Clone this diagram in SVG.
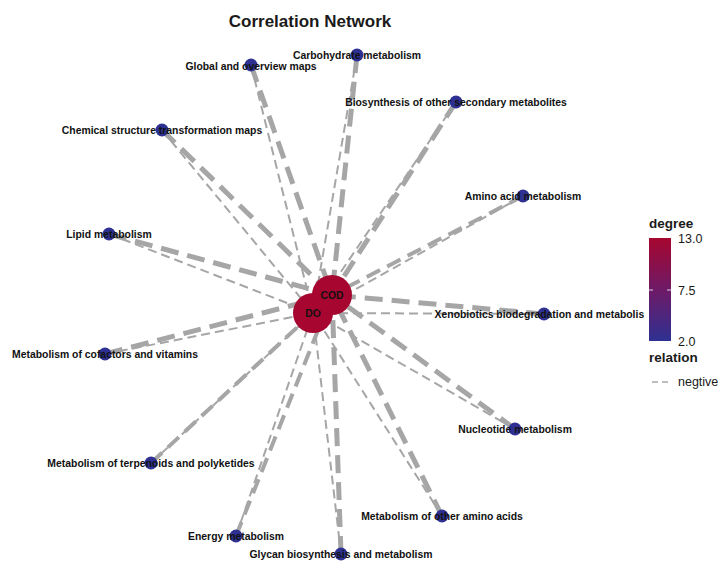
<svg xmlns="http://www.w3.org/2000/svg" width="719" height="561" viewBox="0 0 719 561">
<defs>
<linearGradient id="deg" x1="0" y1="0" x2="0" y2="1">
<stop offset="0" stop-color="#A6062F"/>
<stop offset="0.5" stop-color="#6E1A66"/>
<stop offset="1" stop-color="#2E3192"/>
</linearGradient>
<clipPath id="panel"><rect x="0" y="0" width="644" height="561"/></clipPath>
</defs>
<style>
.e{stroke:#A6A6A6;fill:none;stroke-linecap:butt}
.t{stroke-width:5;stroke-dasharray:18 9}
.m{stroke-width:4;stroke-dasharray:15 8}
.n{stroke-width:2;stroke-dasharray:9 5}
.leaf{fill:#2E3192}
.hub{fill:#A6062F}
.lab{font-family:"Liberation Sans",Arial,sans-serif;font-weight:bold;font-size:10.4px;fill:#111;text-anchor:middle}
.leg{font-family:"Liberation Sans",Arial,sans-serif;fill:#1a1a1a}
</style>
<rect width="719" height="561" fill="#fff"/>
<text x="310" y="27" class="leg" font-size="17" font-weight="bold" text-anchor="middle" fill="#000">Correlation Network</text>
<g id="connectors">
<line class="e t" x1="357" y1="55" x2="332" y2="295"/>
<line class="e n" x1="357" y1="55" x2="313" y2="313"/>
<line class="e t" x1="251" y1="65" x2="332" y2="295"/>
<line class="e n" x1="251" y1="65" x2="313" y2="313"/>
<line class="e t" x1="456" y1="102" x2="332" y2="295"/>
<line class="e n" x1="456" y1="102" x2="313" y2="313"/>
<line class="e t" x1="162" y1="130" x2="332" y2="295"/>
<line class="e n" x1="162" y1="130" x2="313" y2="313"/>
<line class="e m" x1="523" y1="196" x2="332" y2="295"/>
<line class="e n" x1="523" y1="196" x2="313" y2="313"/>
<line class="e t" x1="109" y1="234" x2="332" y2="295"/>
<line class="e n" x1="109" y1="234" x2="313" y2="313"/>
<line class="e t" x1="544" y1="314" x2="332" y2="295"/>
<line class="e n" x1="544" y1="314" x2="313" y2="313"/>
<line class="e t" x1="105" y1="354" x2="332" y2="295"/>
<line class="e n" x1="105" y1="354" x2="313" y2="313"/>
<line class="e t" x1="515" y1="429" x2="332" y2="295"/>
<line class="e n" x1="515" y1="429" x2="313" y2="313"/>
<line class="e m" x1="151" y1="463" x2="332" y2="295"/>
<line class="e n" x1="151" y1="463" x2="313" y2="313"/>
<line class="e t" x1="442" y1="516" x2="332" y2="295"/>
<line class="e n" x1="442" y1="516" x2="313" y2="313"/>
<line class="e m" x1="236" y1="536" x2="332" y2="295"/>
<line class="e n" x1="236" y1="536" x2="313" y2="313"/>
<line class="e t" x1="341" y1="554" x2="332" y2="295"/>
<line class="e n" x1="341" y1="554" x2="313" y2="313"/>
</g>
<g id="n-carbohydrate"><circle class="leaf" cx="357" cy="55" r="6.5"/><text class="lab" x="357" y="59">Carbohydrate metabolism</text></g>
<g id="n-global"><circle class="leaf" cx="251" cy="65" r="6.5"/><text class="lab" x="251" y="70">Global and overview maps</text></g>
<g id="n-biosynthesis"><circle class="leaf" cx="456" cy="102" r="6.5"/><text class="lab" x="456" y="106">Biosynthesis of other secondary metabolites</text></g>
<g id="n-chemical"><circle class="leaf" cx="162" cy="130" r="6.5"/><text class="lab" x="162" y="134">Chemical structure transformation maps</text></g>
<g id="n-aminoacid"><circle class="leaf" cx="523" cy="196" r="6.5"/><text class="lab" x="523" y="200">Amino acid metabolism</text></g>
<g id="n-lipid"><circle class="leaf" cx="109" cy="234" r="6.5"/><text class="lab" x="109" y="238">Lipid metabolism</text></g>
<g id="n-xenobiotics"><circle class="leaf" cx="544" cy="314" r="6.5"/><text class="lab" x="544" y="318" clip-path="url(#panel)">Xenobiotics biodegradation and metabolism</text></g>
<g id="n-cofactors"><circle class="leaf" cx="105" cy="354" r="6.5"/><text class="lab" x="105" y="358">Metabolism of cofactors and vitamins</text></g>
<g id="n-nucleotide"><circle class="leaf" cx="515" cy="429" r="6.5"/><text class="lab" x="515" y="433">Nucleotide metabolism</text></g>
<g id="n-terpenoids"><circle class="leaf" cx="151" cy="463" r="6.5"/><text class="lab" x="151" y="467">Metabolism of terpenoids and polyketides</text></g>
<g id="n-otheramino"><circle class="leaf" cx="442" cy="516" r="6.5"/><text class="lab" x="442" y="520">Metabolism of other amino acids</text></g>
<g id="n-energy"><circle class="leaf" cx="236" cy="536" r="6.5"/><text class="lab" x="236" y="540">Energy metabolism</text></g>
<g id="n-glycan"><circle class="leaf" cx="341" cy="554" r="6.5"/><text class="lab" x="341" y="558">Glycan biosynthesis and metabolism</text></g>
<g id="n-DO"><circle class="hub" cx="313" cy="313" r="20"/><text class="lab" x="313" y="317">DO</text></g>
<g id="n-COD"><circle class="hub" cx="332" cy="295" r="20"/><text class="lab" x="332" y="299">COD</text></g>
<g id="legend">
<text class="leg" x="649" y="228" font-size="13.5" font-weight="bold">degree</text>
<rect x="649" y="238" width="22" height="103" fill="url(#deg)"/>
<g stroke="#fff" stroke-width="1" opacity="0.8">
<line x1="649" y1="290" x2="653" y2="290"/><line x1="667" y1="290" x2="671" y2="290"/>
</g>
<text class="leg" x="678" y="243" font-size="12.5">13.0</text>
<text class="leg" x="678" y="295" font-size="12.5">7.5</text>
<text class="leg" x="678" y="346" font-size="12.5">2.0</text>
<text class="leg" x="649" y="362" font-size="13.5" font-weight="bold">relation</text>
<line x1="652" y1="382" x2="671" y2="382" stroke="#A6A6A6" stroke-width="1.5" stroke-dasharray="6 4"/>
<text class="leg" x="678" y="386" font-size="12.5">negtive</text>
</g>
</svg>
